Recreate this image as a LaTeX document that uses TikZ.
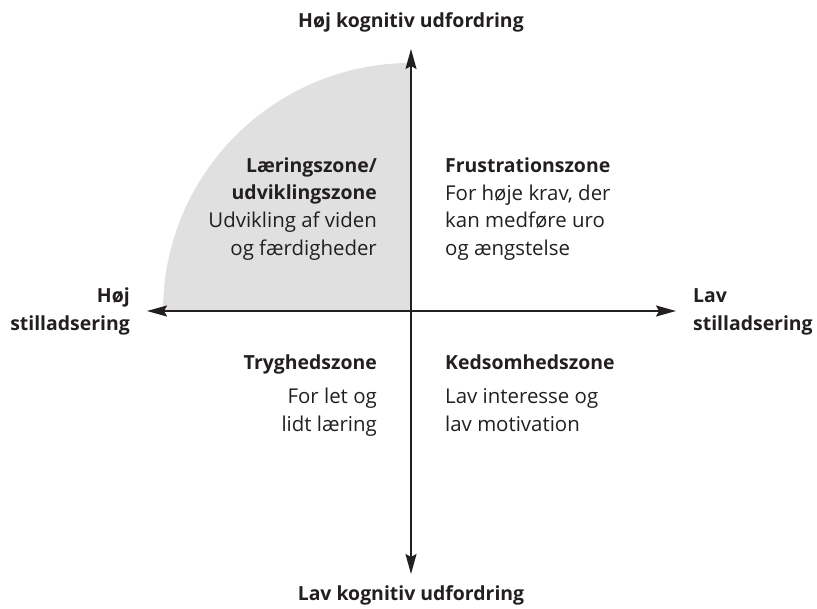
\documentclass[tikz,border=0pt]{standalone}
\usepackage{fontspec}
\setmainfont{Open Sans}
\usetikzlibrary{arrows.meta}
\definecolor{zone}{HTML}{E0E0E1}
\definecolor{ink}{HTML}{231F20}

\begin{document}
\begin{tikzpicture}[x=1bp,y=-1bp,
	axis/.style={ink,line width=1.6bp,{Stealth[length=20bp,width=11bp,inset=3bp]}-{Stealth[length=20bp,width=11bp,inset=3bp]}},
	title/.style={inner sep=0pt,font=\fontsize{19.5}{22}\selectfont\bfseries,text=ink},
	body/.style={inner sep=0pt,font=\fontsize{20.5}{23}\selectfont,text=ink}]
		\useasboundingbox (0,0) rectangle (817,609);
		%
		% axes
		\coordinate (O) at (411,311);
		\coordinate (N) at (411,49);
		\coordinate (S) at (411,574);
		\coordinate (W) at (147,311);
		\coordinate (E) at (676,311);
		\fill[zone] (O) -- (163,311) arc[start angle=180,end angle=270,radius=248] -- cycle;
		\draw[axis] (S) -- (N);
		\draw[axis] (W) -- (E);
		%
		% axis labels
		\node[title,anchor=base] (hk) at (411,28) {Høj kognitiv udfordring};
		\node[title,anchor=base] (lk) at (411,600) {Lav kognitiv udfordring};
		\node[title,anchor=base east] (hs1) at (130,302) {Høj};
		\node[title,anchor=base east] (hs2) at (130,330) {stilladsering};
		\node[title,anchor=base west] (ls1) at (693,302) {Lav};
		\node[title,anchor=base west] (ls2) at (693,330) {stilladsering};
		%
		% upper left
		\node[title,anchor=base east] (ul1) at (377,173) {Læringszone/};
		\node[title,anchor=base east] (ul2) at (377,200) {udviklingszone};
		\node[body,anchor=base east] (ul3) at (377,228) {Udvikling af viden};
		\node[body,anchor=base east] (ul4) at (377,255) {og færdigheder};
		%
		% upper right
		\node[title,anchor=base west] (ur1) at (445,173) {Frustrationszone};
		\node[body,anchor=base west] (ur2) at (445,201) {For høje krav, der};
		\node[body,anchor=base west] (ur3) at (445,228) {kan medføre uro};
		\node[body,anchor=base west] (ur4) at (445,255) {og ængstelse};
		%
		% lower left
		\node[title,anchor=base east] (ll1) at (377,369) {Tryghedszone};
		\node[body,anchor=base east] (ll2) at (377,403) {For let og};
		\node[body,anchor=base east] (ll3) at (377,431) {lidt læring};
		%
		% lower right
		\node[title,anchor=base west] (lr1) at (445,369) {Kedsomhedszone};
		\node[body,anchor=base west] (lr2) at (445,403) {Lav interesse og};
		\node[body,anchor=base west] (lr3) at (445,431) {lav motivation};
	\end{tikzpicture}
\end{document}
